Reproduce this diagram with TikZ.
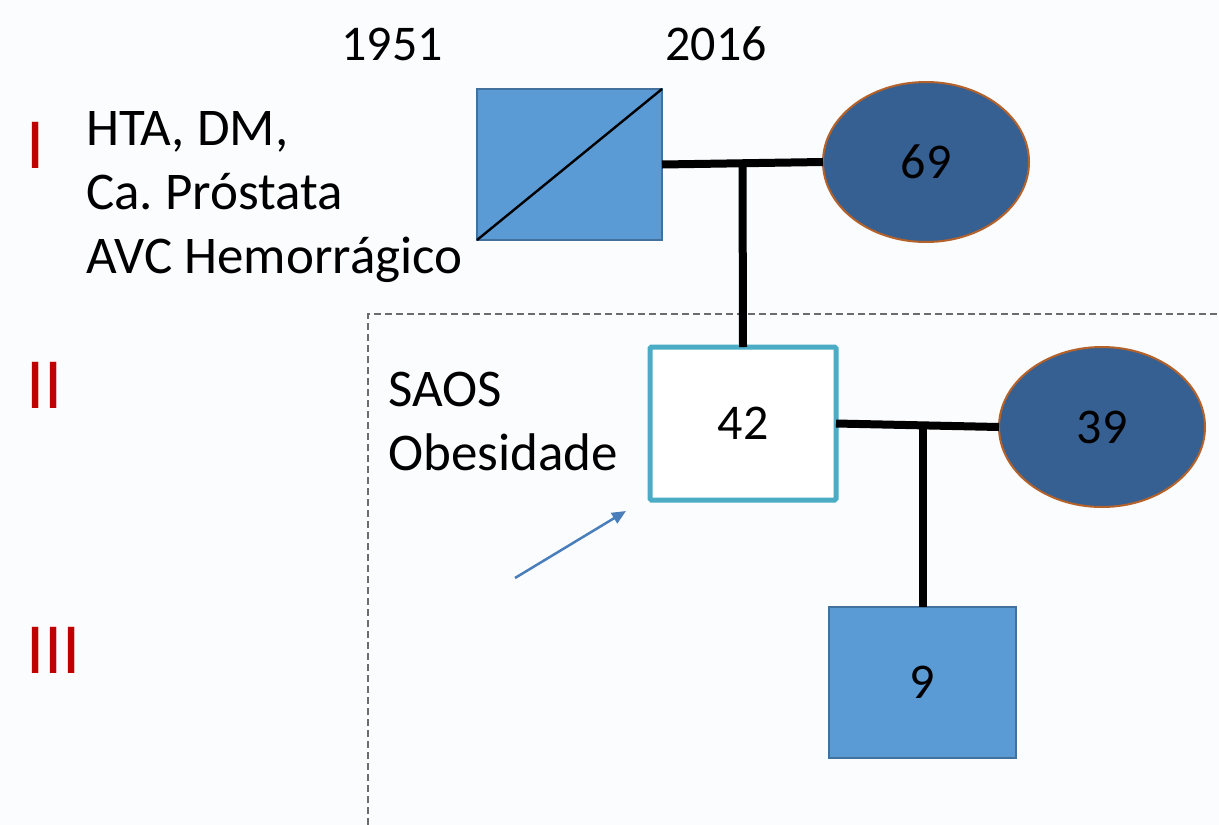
\documentclass[tikz,border=0pt]{standalone}
\usepackage{fontspec}
\setmainfont{Carlito}
\usetikzlibrary{shapes.geometric,arrows.meta,calc}
\definecolor{bg}{HTML}{FBFCFE}
\definecolor{ltblue}{HTML}{5B9BD5}
\definecolor{ltblueedge}{HTML}{41719C}
\definecolor{dkblue}{HTML}{376092}
\definecolor{brownedge}{HTML}{B4612A}
\definecolor{teal}{HTML}{4BACC6}
\definecolor{arrowblue}{HTML}{4A7EBB}
\definecolor{gen}{HTML}{C00000}
\frenchspacing
\tikzset{
  txt/.style={font=\fontsize{50}{64}\selectfont, inner sep=0pt, text=black},
  note/.style={font=\fontsize{53}{64}\selectfont, inner sep=0pt, text=black, anchor=north west, align=left},
  roman/.style={font=\fontsize{72}{80}\selectfont, text=gen, inner sep=0pt, anchor=west},
  malefill/.style={rectangle, draw=ltblueedge, line width=2pt, fill=ltblue, inner sep=0pt, outer sep=0pt, font=\fontsize{50}{60}\selectfont},
  female/.style={ellipse, draw=brownedge, line width=2pt, fill=dkblue, minimum width=206pt, minimum height=160pt, inner sep=0pt, outer sep=0pt, font=\fontsize{50}{60}\selectfont},
  proband/.style={rectangle, draw=teal, line width=5pt, fill=white, rounded corners=1.5pt, inner sep=0pt, outer sep=0pt, font=\fontsize{50}{60}\selectfont},
  rel/.style={line width=8pt, black},
  frame/.style={draw=gray!85!black, line width=1.8pt, dash pattern=on 7pt off 4pt},
  pointer/.style={draw=arrowblue, line width=2.5pt, -{Triangle[length=14pt,width=12pt]}}
}
\begin{document}
\begin{tikzpicture}[x=1pt,y=-1pt]
\fill[bg] (0,0) rectangle (1219,825);
\useasboundingbox (0,0) rectangle (1219,825);
% dashed frame
\draw[frame] (368,825) -- (368,314) -- (1219,314);
% generation numerals
\node[roman] (gI) at (26,145) {I};
\node[roman] (gII) at (26,385) {II};
\node[roman] (gIII) at (26,650) {III};
% years
\node[txt] (y1) at (392,44) {1951};
\node[txt] (y2) at (716,44) {2016};
% notes
\node[note] (notes) at (86,111) {HTA, DM,\\Ca. Próstata\\AVC Hemorrágico};
\node[note] (saos) at (388,372) {SAOS\\Obesidade};
% generation I
\node[malefill, minimum width=185pt, minimum height=151pt] (sq1) at (569.5,164.5) {};
\draw[black, line width=2.4pt] (sq1.south west) -- (sq1.north east);
\node[female] (e69) at (926,162) {69};
% generation II
\node[proband, minimum width=186pt, minimum height=153pt] (p42) at (743,423.5) {42};
\node[female] (e39) at (1102,427) {39};
% generation III
\node[malefill, minimum width=187pt, minimum height=151pt] (s9) at (922.5,682.5) {9};
% relationship lines
\draw[rel] (sq1.east) -- (e69.west);
\draw[rel] ($(sq1.east)!0.5!(e69.west)$) -- (p42.north);
\draw[rel] (p42.east) -- (e39.west);
\draw[rel] (s9.north |- p42.east) -- (s9.north);
% pointer arrow
\coordinate (a0) at (515,578);
\coordinate (a1) at (626,511);
\draw[pointer] (a0) -- (a1);
\end{tikzpicture}
\end{document}
